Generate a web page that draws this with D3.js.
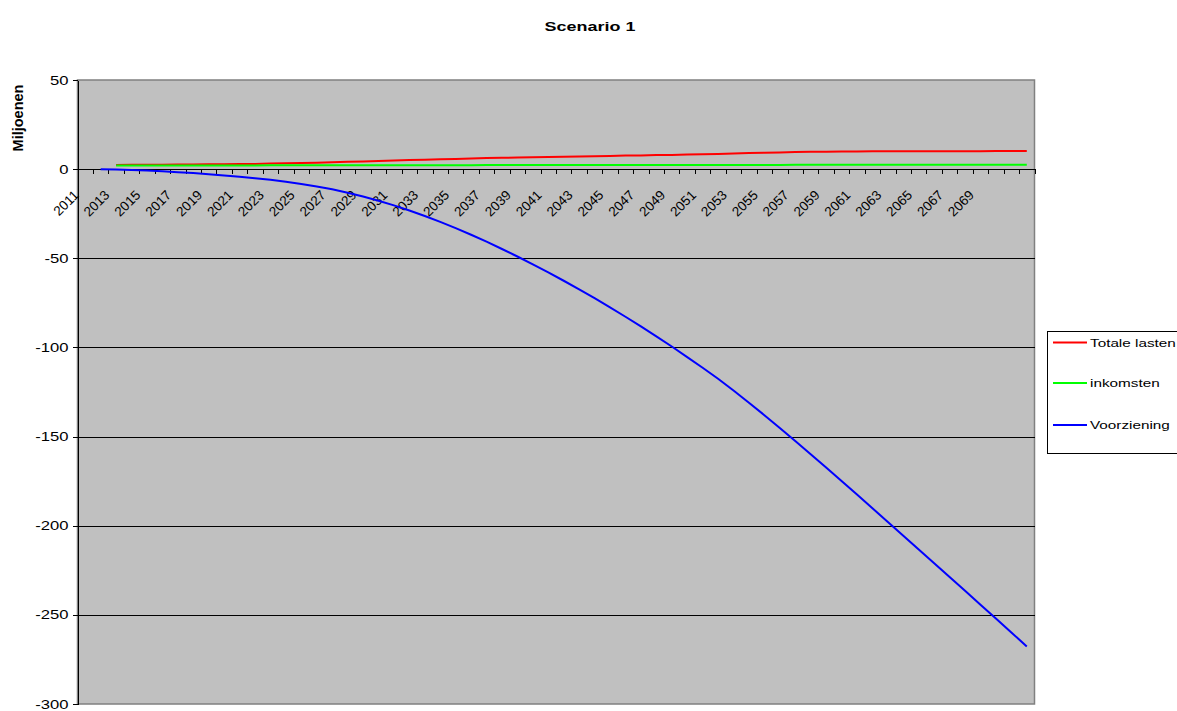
<!DOCTYPE html>
<html>
<head>
<meta charset="utf-8">
<script src="https://cdn.jsdelivr.net/npm/d3@7"></script>
<style>
  body { margin: 0; background: #ffffff; }
  text { font-family: "Liberation Sans", Arial, sans-serif; fill: #000; }
</style>
</head>
<body>
<svg id="chart" width="1177" height="711"></svg>
<script>
// Category axis: one slot per year
const years = [
  2011, 2012, 2013, 2014, 2015, 2016, 2017, 2018, 2019, 2020,
  2021, 2022, 2023, 2024, 2025, 2026, 2027, 2028, 2029, 2030,
  2031, 2032, 2033, 2034, 2035, 2036, 2037, 2038, 2039, 2040,
  2041, 2042, 2043, 2044, 2045, 2046, 2047, 2048, 2049, 2050,
  2051, 2052, 2053, 2054, 2055, 2056, 2057, 2058, 2059, 2060,
  2061, 2062, 2063, 2064, 2065, 2066, 2067, 2068, 2069, 2070,
  2071, 2072
];
const tickLabels = [
  "2011", "2013", "2015", "2017", "2019", "2021", "2023", "2025", "2027", "2029",
  "2031", "2033", "2035", "2037", "2039", "2041", "2043", "2045", "2047", "2049",
  "2051", "2053", "2055", "2057", "2059", "2061", "2063", "2065", "2067", "2069"
];
const yTicks = [50, 0, -50, -100, -150, -200, -250, -300];
const yGrid = [-50, -100, -150, -200, -250];

// Series (millions), starting year per series
const lastenStart = 2013;
const totaleLasten = [
  2.3, 2.4, 2.4, 2.5, 2.6, 2.6, 2.7, 2.8, 2.9, 2.9,
  3.1, 3.3, 3.4, 3.6, 3.8, 4.1, 4.3, 4.6, 4.8, 5.1,
  5.3, 5.5, 5.7, 5.9, 6.2, 6.4, 6.5, 6.7, 6.8, 7.0,
  7.1, 7.3, 7.4, 7.6, 7.7, 7.9, 8.0, 8.2, 8.3, 8.5,
  8.8, 9.0, 9.2, 9.4, 9.6, 9.7, 9.8, 9.9, 9.9, 10.0,
  10.0, 10.0, 10.0, 10.1, 10.1, 10.1, 10.1, 10.2, 10.2, 10.2
];
const inkomstenStart = 2013;
const inkomsten = [
  2.1, 2.1, 2.1, 2.1, 2.1, 2.1, 2.1, 2.1, 2.1, 2.1,
  2.2, 2.2, 2.2, 2.2, 2.2, 2.2, 2.2, 2.2, 2.2, 2.2,
  2.2, 2.2, 2.2, 2.2, 2.3, 2.3, 2.3, 2.3, 2.3, 2.3,
  2.3, 2.3, 2.3, 2.3, 2.3, 2.3, 2.3, 2.3, 2.3, 2.3,
  2.3, 2.3, 2.3, 2.3, 2.4, 2.4, 2.4, 2.4, 2.4, 2.4,
  2.4, 2.4, 2.4, 2.4, 2.4, 2.4, 2.4, 2.4, 2.4, 2.4
];
const voorzieningStart = 2012;
const voorziening = [
  0, -0.2, -0.5, -0.8, -1.2, -1.7, -2.2, -2.8, -3.5, -4.3, -5.1,
  -6.0, -7.1, -8.3, -9.7, -11.3, -13.2, -15.3, -17.7, -20.3, -23.2,
  -26.3, -29.6, -33.1, -36.8, -40.7, -44.8, -49.0, -53.4, -57.9, -62.6,
  -67.4, -72.4, -77.5, -82.8, -88.2, -93.8, -99.5, -105.4, -111.4, -117.6,
  -124.2, -131.0, -138.0, -145.2, -152.5, -159.9, -167.4, -174.9, -182.5, -190.2,
  -197.9, -205.6, -213.3, -221.0, -228.8, -236.5, -244.3, -252.1, -259.9, -267.7
];

const seriesList = [
  { name: "Totale lasten", start: lastenStart, values: totaleLasten, color: "#ff0000" },
  { name: "inkomsten", start: inkomstenStart, values: inkomsten, color: "#00ff00" },
  { name: "Voorziening", start: voorzieningStart, values: voorziening, color: "#0000ff" }
];

// Horizontal text in this chart is drawn wide
const SX = 1.33;

const plot = { left: 77.5, right: 1034.5, top: 80, bottom: 704 };
const svg = d3.select("#chart");

const x = d3.scaleBand().domain(years).range([plot.left, plot.right]).padding(0);
const slot = d3.scaleLinear().domain([0, years.length]).range([plot.left, plot.right]);
const y = d3.scaleLinear().domain([-300, 50]).range([plot.bottom, plot.top]);
const cx = yr => x(yr) + x.bandwidth() / 2;

// Title
svg.append("text")
  .attr("transform", `translate(590,31) scale(${SX},1)`)
  .attr("text-anchor", "middle")
  .style("font-weight", "bold")
  .style("font-size", "13.5px")
  .text("Scenario 1");

// Y axis title
svg.append("text")
  .attr("transform", "translate(23,118) rotate(-90)")
  .attr("text-anchor", "middle")
  .style("font-weight", "bold")
  .style("font-size", "14.5px")
  .text("Miljoenen");

// Plot background
svg.append("rect")
  .attr("x", plot.left).attr("y", plot.top)
  .attr("width", plot.right - plot.left).attr("height", plot.bottom - plot.top)
  .attr("fill", "#c0c0c0")
  .attr("stroke", "#808080").attr("stroke-width", 1.5);

// Horizontal gridlines
svg.append("g")
  .attr("transform", `translate(${plot.left},0)`)
  .call(d3.axisLeft(y).tickValues(yGrid).tickSize(-(plot.right - plot.left)).tickFormat(""))
  .call(g => g.select(".domain").remove())
  .call(g => g.selectAll("line").attr("stroke", "#000").attr("shape-rendering", "crispEdges"));

// Y axis
const yAxis = svg.append("g")
  .attr("transform", `translate(${plot.left},0)`)
  .call(d3.axisLeft(y).tickValues(yTicks).tickSize(5).tickPadding(4).tickSizeOuter(0)
    .tickFormat(d => String(d)));
yAxis.select(".domain").attr("stroke", "#000").attr("shape-rendering", "crispEdges");
yAxis.selectAll("line").attr("stroke", "#000").attr("shape-rendering", "crispEdges");
yAxis.selectAll("text")
  .style("font-size", "12.5px")
  .attr("font-family", null)
  .each(function () {
    const t = d3.select(this);
    const xx = +t.attr("x");
    t.attr("x", 0).attr("transform", `translate(${xx},0) scale(${SX},1)`);
  });

// Zero line with category tick marks
const xTickAxis = svg.append("g")
  .attr("transform", `translate(0,${y(0)})`)
  .call(d3.axisBottom(slot).tickValues(d3.range(0, years.length + 1)).tickSize(5).tickFormat("").tickSizeOuter(0));
xTickAxis.select(".domain").attr("stroke", "#000").attr("shape-rendering", "crispEdges");
xTickAxis.selectAll("line").attr("stroke", "#000").attr("shape-rendering", "crispEdges");

// Category labels, every second year, slanted at 45 degrees
const labelYears = years.filter(yr => tickLabels.includes(String(yr)));
const xLabelAxis = svg.append("g")
  .attr("transform", `translate(0,${y(0)})`)
  .call(d3.axisBottom(x).tickValues(labelYears).tickSize(0).tickFormat(d => String(d)));
xLabelAxis.select(".domain").remove();
xLabelAxis.selectAll(".tick").attr("transform", null);
xLabelAxis.selectAll("text")
  .style("font-size", "13.5px")
  .attr("font-family", null)
  .attr("text-anchor", "end")
  .attr("x", 0).attr("y", 0).attr("dy", "0.35em")
  .attr("transform", d => `translate(${cx(d) - 9},23.5) rotate(-45)`);

// Series lines
const line = d3.line().x(d => cx(d.year)).y(d => y(d.value));
seriesList.forEach(s => {
  const pts = s.values.map((v, i) => ({ year: s.start + i, value: v }));
  svg.append("path")
    .datum(pts)
    .attr("fill", "none")
    .attr("stroke", s.color)
    .attr("stroke-width", 2)
    .attr("d", line);
});

// Legend
const legend = svg.append("g");
legend.append("rect")
  .attr("x", 1047.5).attr("y", 331.5).attr("width", 150).attr("height", 122)
  .attr("fill", "#fff").attr("stroke", "#000").attr("stroke-width", 1);
const legendY = [342.5, 383, 425];
seriesList.forEach((s, i) => {
  legend.append("line")
    .attr("x1", 1053).attr("x2", 1087)
    .attr("y1", legendY[i]).attr("y2", legendY[i])
    .attr("stroke", s.color).attr("stroke-width", 2);
  legend.append("text")
    .attr("transform", `translate(1090,${legendY[i]}) scale(${SX},1)`)
    .attr("dy", "0.35em")
    .style("font-size", "11.5px")
    .text(s.name);
});
</script>
</body>
</html>
